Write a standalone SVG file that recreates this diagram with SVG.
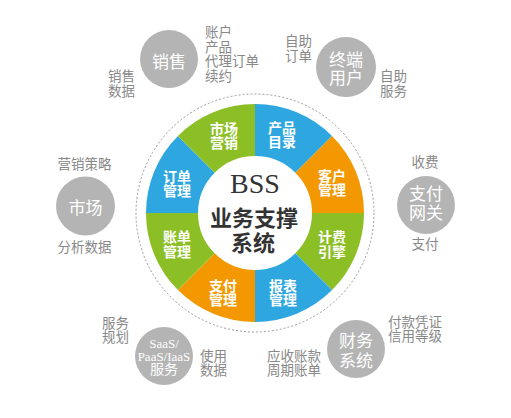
<svg xmlns="http://www.w3.org/2000/svg" width="511" height="418" viewBox="0 0 511 418">
<style>
.blue{fill:#2ea7e0}
.orange{fill:#f39800}
.green{fill:#8cbf26}
.seg{font-family:"Noto Sans CJK SC","Noto Sans",sans-serif;font-size:14px;font-weight:bold;fill:#fff;text-anchor:middle}
.bub{fill:#b4b4b4}
.bt{font-family:"Noto Sans CJK SC","Noto Sans",sans-serif;font-size:17px;fill:#fff;text-anchor:middle}
.lbl{font-family:"Noto Sans CJK SC","Noto Sans",sans-serif;font-size:13.5px;fill:#888}
.mid{text-anchor:middle}
.serif{font-family:"Liberation Serif","Noto Sans CJK SC",serif;font-size:13px;fill:#fff;text-anchor:middle}
</style>
<rect width="511" height="418" fill="#fff"/>
<g id="connectors"/>
<g id="ring">
<circle cx="255" cy="213" r="119" fill="none" stroke="#999" stroke-width="1" stroke-dasharray="2 2"/>
</g>
<g id="seg-product">
<path class="blue" d="M255,104 A109,109 0 0 1 332.07,135.93 L295.31,172.69 A57,57 0 0 0 255,156 Z"/>
<text class="seg" x="282" y="133">产品<tspan x="282" dy="14">目录</tspan></text>
</g>
<g id="seg-customer">
<path class="orange" d="M332.07,135.93 A109,109 0 0 1 364,213 L312,213 A57,57 0 0 0 295.31,172.69 Z"/>
<text class="seg" x="332" y="181">客户<tspan x="332" dy="14">管理</tspan></text>
</g>
<g id="seg-billing">
<path class="green" d="M364,213 A109,109 0 0 1 332.07,290.07 L295.31,253.31 A57,57 0 0 0 312,213 Z"/>
<text class="seg" x="332" y="242">计费<tspan x="332" dy="15">引擎</tspan></text>
</g>
<g id="seg-report">
<path class="blue" d="M332.07,290.07 A109,109 0 0 1 255,322 L255,270 A57,57 0 0 0 295.31,253.31 Z"/>
<text class="seg" x="283" y="291">报表<tspan x="283" dy="14">管理</tspan></text>
</g>
<g id="seg-payment">
<path class="orange" d="M255,322 A109,109 0 0 1 177.93,290.07 L214.69,253.31 A57,57 0 0 0 255,270 Z"/>
<text class="seg" x="223" y="291">支付<tspan x="223" dy="14">管理</tspan></text>
</g>
<g id="seg-bill">
<path class="green" d="M177.93,290.07 A109,109 0 0 1 146,213 L198,213 A57,57 0 0 0 214.69,253.31 Z"/>
<text class="seg" x="177" y="242">账单<tspan x="177" dy="15">管理</tspan></text>
</g>
<g id="seg-order">
<path class="blue" d="M146,213 A109,109 0 0 1 177.93,135.93 L214.69,172.69 A57,57 0 0 0 198,213 Z"/>
<text class="seg" x="177" y="182">订单<tspan x="177" dy="14">管理</tspan></text>
</g>
<g id="seg-marketing">
<path class="green" d="M177.93,135.93 A109,109 0 0 1 255,104 L255,156 A57,57 0 0 0 214.69,172.69 Z"/>
<text class="seg" x="224" y="134">市场<tspan x="224" dy="14">营销</tspan></text>
</g>
<g id="center">
<text x="255" y="193" font-family="Liberation Serif,serif" font-size="28" fill="#333" text-anchor="middle">BSS</text>
<text x="254" y="226" font-family="Noto Sans CJK SC,sans-serif" font-size="22" font-weight="bold" fill="#333" text-anchor="middle">业务支撑<tspan x="253" dy="25">系统</tspan></text>
</g>
<g id="sales">
<circle class="bub" cx="169" cy="59" r="29"/>
<text class="bt" x="169" y="67.5" font-size="18">销售</text>
<text class="lbl" x="205" y="37">账户<tspan x="205" dy="14.5">产品</tspan><tspan x="205" dy="14.5">代理订单</tspan><tspan x="205" dy="14.5">续约</tspan></text>
<text class="lbl" x="108" y="81">销售<tspan x="108" dy="14.5">数据</tspan></text>
</g>
<g id="terminal-user">
<circle class="bub" cx="346" cy="67" r="30"/>
<text class="bt" x="346" y="66">终端<tspan x="346" dy="18">用户</tspan></text>
<text class="lbl" x="285" y="46">自助<tspan x="285" dy="15">订单</tspan></text>
<text class="lbl" x="380" y="81">自助<tspan x="380" dy="15">服务</tspan></text>
</g>
<g id="market">
<circle class="bub" cx="85.5" cy="206" r="29.5"/>
<text class="bt" x="85.5" y="214">市场</text>
<text class="lbl mid" x="84.5" y="169">营销策略</text>
<text class="lbl mid" x="84.5" y="252">分析数据</text>
</g>
<g id="payment-gateway">
<circle class="bub" cx="426" cy="205" r="29"/>
<text class="bt" x="426" y="200">支付<tspan x="426" dy="19">网关</tspan></text>
<text class="lbl mid" x="425" y="167">收费</text>
<text class="lbl mid" x="425" y="249">支付</text>
</g>
<g id="saas">
<circle class="bub" cx="164" cy="356" r="29"/>
<text class="serif" x="164" y="348">SaaS/<tspan x="164" dy="13">PaaS/IaaS</tspan><tspan x="164" dy="13" font-family="Noto Sans CJK SC,sans-serif" font-size="14">服务</tspan></text>
<text class="lbl" x="102" y="328">服务<tspan x="102" dy="13.5">规划</tspan></text>
<text class="lbl" x="200" y="361">使用<tspan x="200" dy="14">数据</tspan></text>
</g>
<g id="finance">
<circle class="bub" cx="356" cy="349" r="29"/>
<text class="bt" x="356" y="347">财务<tspan x="356" dy="20">系统</tspan></text>
<text class="lbl" x="388" y="327">付款凭证<tspan x="388" dy="14">信用等级</tspan></text>
<text class="lbl" x="267" y="361">应收账款<tspan x="267" dy="14">周期账单</tspan></text>
</g>
</svg>
